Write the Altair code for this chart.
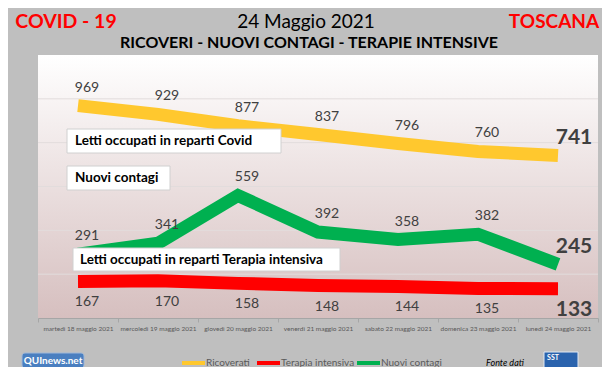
import altair as alt
import pandas as pd

FONT = "Lato"

days = ["martedì 18 maggio 2021", "mercoledì 19 maggio 2021", "giovedì 20 maggio 2021",
        "venerdì 21 maggio 2021", "sabato 22 maggio 2021", "domenica 23 maggio 2021",
        "lunedì 24 maggio 2021"]
ricoverati = [969, 929, 877, 837, 796, 760, 741]
terapia = [167, 170, 158, 148, 144, 135, 133]
contagi = [291, 341, 559, 392, 358, 382, 245]
series_names = ["Ricoverati", "Terapia intensiva", "Nuovi contagi"]
series_colors = ["#FFC82E", "#FF0000", "#00B050"]
y_ticks = [0, 200, 400, 600, 800, 1000, 1200]
grid_values = [200, 400, 600, 800, 1000]

rows = []
for name, vals in zip(series_names, [ricoverati, terapia, contagi]):
    for i, (d, v) in enumerate(zip(days, vals)):
        rows.append({"giorno": d, "serie": name, "valore": v, "ultimo": i == len(days) - 1})
df = pd.DataFrame(rows)

W, H = 560, 263

x_enc = alt.X("giorno:N", sort=days,
              scale=alt.Scale(type="band", paddingInner=0, paddingOuter=0),
              axis=alt.Axis(title=None, labelAngle=0, labelFontSize=6.5, labelColor="#595959",
                            labelFont=FONT, tickBand="extent", tickSize=4, tickColor="#a6a6a6",
                            domainColor="#a6a6a6", labelPadding=3, grid=False,
                            labelOverlap=False, labelLimit=90))
y_enc = alt.Y("valore:Q", scale=alt.Scale(domain=[0, 1200], nice=False),
              axis=alt.Axis(values=y_ticks, title=None,
                            labelExpr="replace(format(datum.value, ','), ',', '.')",
                            domain=False, ticks=False, labelColor="#595959", labelFontSize=8,
                            labelFont=FONT, labelPadding=7, grid=False))

one = pd.DataFrame({"a": [0]})

# plot background gradient
bg = alt.Chart(one).mark_rect(
    fill=alt.Gradient(gradient="linear", x1=0, x2=0, y1=0, y2=1,
                      stops=[alt.GradientStop(color="#ffffff", offset=0),
                             alt.GradientStop(color="#d6bfbf", offset=1)])
).encode(x=alt.value(0), x2=alt.value(W), y=alt.value(0), y2=alt.value(H))

grid = alt.Chart(pd.DataFrame({"g": grid_values})).mark_rule(
    color="#e2dcdc", strokeWidth=1
).encode(y=alt.Y("g:Q", scale=alt.Scale(domain=[0, 1200], nice=False), axis=None))

base = alt.Chart(df)

lines = base.mark_line(strokeWidth=13, strokeCap="butt", strokeJoin="miter").encode(
    x=x_enc, y=y_enc,
    color=alt.Color("serie:N", scale=alt.Scale(domain=series_names, range=series_colors),
                    legend=None),
    detail="serie:N",
)


def box(x1, y1, x2, y2):
    return alt.Chart(one).mark_rect(
        fill="white", stroke="#d0d0d0", strokeWidth=1
    ).encode(x=alt.value(x1), x2=alt.value(x2), y=alt.value(y1), y2=alt.value(y2))


def txt(s, x, y, size, color="black", weight="bold", align="left", style="normal",
        baseline="middle"):
    return alt.Chart(pd.DataFrame({"t": [s]})).mark_text(
        align=align, baseline=baseline, fontSize=size, fontWeight=weight, color=color,
        font=FONT, fontStyle=style
    ).encode(x=alt.value(x), y=alt.value(y), text="t:N")


boxes = [
    box(29, 74, 243, 98), txt("Letti occupati in reparti Covid", 37, 86, 13.5),
    box(29, 111, 132, 135), txt("Nuovi contagi", 37, 123, 13.5),
    box(35, 193, 302, 216), txt("Letti occupati in reparti Terapia intensiva", 42, 204.5, 13.5),
]


def labels(series, dy, last):
    flt = f"datum.serie == '{series}' && " + ("datum.ultimo" if last else "!datum.ultimo")
    if last:
        mk = dict(dx=16, dy=dy, fontSize=21, fontWeight="bold")
    else:
        mk = dict(dx=9, dy=dy, fontSize=14, fontWeight="normal")
    return base.transform_filter(flt).mark_text(
        color="#404040", font=FONT, baseline="middle", **mk
    ).encode(x=x_enc, y=y_enc, text="valore:Q")


lab_layers = [
    labels("Ricoverati", -18, False), labels("Ricoverati", -18, True),
    labels("Nuovi contagi", -18, False), labels("Nuovi contagi", -17, True),
    labels("Terapia intensiva", 21, False), labels("Terapia intensiva", 21, True),
]

titles = [
    txt("COVID - 19", 28, -27.5, 19.5, color="#FF0000", align="center", baseline="alphabetic"),
    txt("24 Maggio 2021", 268, -27.5, 19, color="black", weight="normal", align="center",
        baseline="alphabetic"),
    txt("TOSCANA", 516, -27.5, 19, color="#FF0000", align="center", baseline="alphabetic"),
    txt("RICOVERI - NUOVI CONTAGI - TERAPIE INTENSIVE", 271, -7, 16, align="center",
        baseline="alphabetic"),
    txt("Fonte dati", 467, 308, 9, weight="normal", align="center", style="italic"),
]

# legend (swatch + label per series)
legend_swatch_x = [144, 219, 319]
legend_layers = []
for name, col, lx in zip(series_names, series_colors, legend_swatch_x):
    legend_layers.append(
        alt.Chart(one).mark_rule(color=col, strokeWidth=4).encode(
            x=alt.value(lx), x2=alt.value(lx + 23), y=alt.value(308))
    )
    legend_layers.append(txt(name, lx + 24, 308, 10, color="#595959", weight="normal"))

logo1 = alt.Chart(one).mark_rect(
    fill="#4a7fc0", cornerRadius=3, stroke="#9fb8d8", strokeWidth=1
).encode(x=alt.value(-16), x2=alt.value(46), y=alt.value(298), y2=alt.value(313))
logo1t = txt("QUInews.net", 15, 305.5, 10, color="white", align="center")
logo2 = alt.Chart(one).mark_rect(
    fill="#2a63ad", stroke="#dfe8f3", strokeWidth=1
).encode(x=alt.value(506), x2=alt.value(540), y=alt.value(297), y2=alt.value(313))
logo2t = txt("SST", 515, 303, 7, color="white", align="center")

chart = alt.layer(
    bg, grid, lines, *boxes, *lab_layers, *titles, *legend_layers,
    logo1, logo1t, logo2, logo2t
).properties(
    width=W, height=H,
    autosize=alt.AutoSizeParams(type="none"),
    padding={"left": 30, "top": 47, "right": 4, "bottom": 49},
    background="#bfbfbf",
).configure_view(stroke=None)

chart.save("out.html", embed_options={"renderer": "svg", "actions": False})
